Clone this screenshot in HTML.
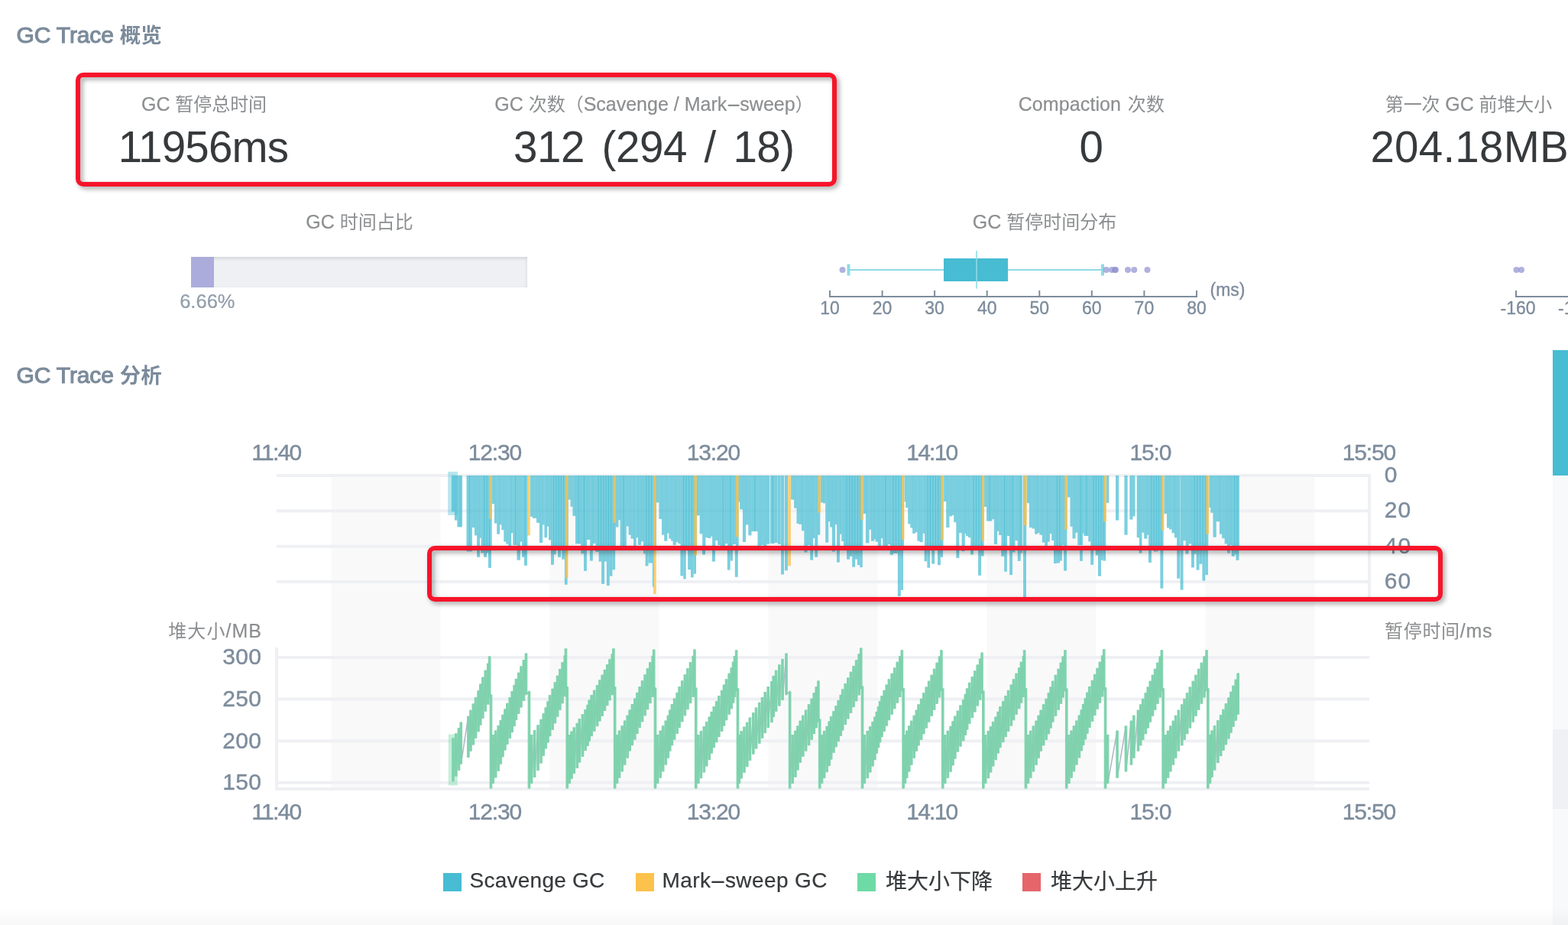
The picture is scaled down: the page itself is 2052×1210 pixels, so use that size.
<!DOCTYPE html>
<html lang="zh-CN"><head><meta charset="utf-8"><title>GC Trace</title>
<style>
*{box-sizing:border-box;margin:0;padding:0}
html,body{width:2052px;height:1210px;overflow:hidden;background:#fff}
body{position:relative;font-family:"Liberation Sans","Noto Sans CJK SC",sans-serif;color:#373a3c}
.t{position:absolute;white-space:nowrap;line-height:1}
.title{font-weight:500;font-size:30px;color:#7b8b9b;-webkit-text-stroke:1.1px #7b8b9b;letter-spacing:-.15px}
.title span{font-size:27.5px;font-weight:bold;-webkit-text-stroke:0;letter-spacing:0}
.label{font-size:25px;color:#8c8e90;-webkit-text-stroke:.2px #8c8e90}
.z{font-size:24px;-webkit-text-stroke:0}
.value{font-size:56.5px;color:#373a3c;letter-spacing:-.8px}
.ax{font-size:30px;color:#7d8c9c;letter-spacing:-1.15px;-webkit-text-stroke:.4px #7d8c9c}
.bx{font-size:23px;color:#7d8c9c;-webkit-text-stroke:.35px #7d8c9c}
.c{text-align:center}
.r{text-align:right}
.hy{display:inline-block;transform:scaleX(2.3);margin:0 4.4px}
.redbox{position:absolute;border:6px solid #f7142a;border-radius:10px;filter:drop-shadow(3px 3px 3.2px rgba(0,0,0,.36))}
.progress{position:absolute;left:250px;top:336px;width:440px;height:40px;background:#eff0f4;box-shadow:inset 0 2px 4px rgba(0,0,0,.13)}
.progress .bar{width:30px;height:40px;background:#abacdb}
.side{position:absolute;left:2032px;top:458px;width:20px;height:752px;background:#f8f9fb}
.side .thumb{position:absolute;left:0;top:0;width:20px;height:164px;background:#47bcd2}
.side .blk{position:absolute;left:0;top:496px;width:20px;height:104px;background:#eff1f5}
.footer{position:absolute;left:0;top:1188px;width:2052px;height:22px;background:linear-gradient(rgba(0,0,0,0),rgba(0,0,0,.03))}
.legend i{position:absolute;width:24px;height:24px;top:1142px}
.legend .t{font-size:28px;color:#373a3c;-webkit-text-stroke:.2px #373a3c}
svg{position:absolute;left:0;top:0;overflow:visible}
</style></head>
<body>
<h2 class="t title" style="left:21.5px;top:31px">GC Trace <span>概览</span></h2>
<h2 class="t title" style="left:21.5px;top:475.7px">GC Trace <span>分析</span></h2>
<section class="stats">
<div class="t label" style="left:185px;top:123.6px;letter-spacing:-.05px">GC <span class="z">暂停总时间</span></div>
<div class="t value" style="left:154.7px;top:165.2px;">11956ms</div>
<div class="t label" style="left:647.2px;top:123.6px;letter-spacing:0;word-spacing:0">GC <span class="z">次数（</span>Scavenge / Mark<span class="hy">-</span>sweep<span class="z">）</span></div>
<div class="t value" style="left:672px;top:165.2px;letter-spacing:-.45px;word-spacing:7.4px">312 (294 / 18)</div>
<div class="t label" style="left:1332.7px;top:123.6px;letter-spacing:.1px;word-spacing:1.7px">Compaction <span class="z">次数</span></div>
<div class="t value" style="left:1412.5px;top:165.2px;">0</div>
<div class="t label" style="left:1812.8px;top:123.6px;letter-spacing:-.1px"><span class="z">第一次</span> GC <span class="z">前堆大小</span></div>
<div class="t value" style="left:1793.4px;top:165.2px;letter-spacing:.25px">204.18MB</div>
<div class="t label" style="left:400.2px;top:278px;letter-spacing:0">GC <span class="z">时间占比</span></div>
<div class="progress"><div class="bar"></div></div>
<div class="t label" style="left:235.2px;top:381.9px;color:#8f9fb0;font-size:25.5px">6.66%</div>
<div class="t label" style="left:1272.7px;top:278px;letter-spacing:0">GC <span class="z">暂停时间分布</span></div>
</section>
<div class="side"><div class="thumb"></div><div class="blk"></div></div>
<div class="footer"></div>
<div class="legend">
<i style="left:580px;background:#47bcd2"></i>
<div class="t " style="left:614.5px;top:1138px;letter-spacing:.25px">Scavenge GC</div>
<i style="left:832px;background:#fcc24c"></i>
<div class="t " style="left:866.6px;top:1138px;letter-spacing:.4px">Mark<span class="hy">-</span>sweep GC</div>
<i style="left:1122px;background:#6edaa5"></i>
<div class="t " style="left:1159px;top:1140px;">堆大小下降</div>
<i style="left:1338px;background:#e5656b"></i>
<div class="t " style="left:1375px;top:1140px;">堆大小上升</div>
</div>
<svg width="2052" height="1210" viewBox="0 0 2052 1210" role="img" aria-label="GC Trace"><g id="boxplot">
<path d="M1086 380V388H1566V380" fill="none" stroke="#7d8c9c" stroke-width="2"/>
<path d="M1154.6 380V388" stroke="#7d8c9c" stroke-width="2"/>
<path d="M1223.1 380V388" stroke="#7d8c9c" stroke-width="2"/>
<path d="M1291.7 380V388" stroke="#7d8c9c" stroke-width="2"/>
<path d="M1360.3 380V388" stroke="#7d8c9c" stroke-width="2"/>
<path d="M1428.8 380V388" stroke="#7d8c9c" stroke-width="2"/>
<path d="M1497.4 380V388" stroke="#7d8c9c" stroke-width="2"/>
<path d="M1110 353H1443" stroke="#8fdbe4" stroke-width="2"/>
<path d="M1110.5 345.5V360.5M1443 345.5V360.5" stroke="#8fdbe4" stroke-width="4"/>
<rect x="1235" y="338" width="84" height="30" fill="#47bcd2"/>
<path d="M1278 328V377.5" stroke="#8fdbe4" stroke-width="1.6"/>
<circle cx="1102.5" cy="353" r="4" fill="#8e90d0" fill-opacity="0.7"/>
<circle cx="1447.75" cy="353" r="4" fill="#8e90d0" fill-opacity="0.7"/>
<circle cx="1455" cy="353" r="4" fill="#8e90d0" fill-opacity="0.7"/>
<circle cx="1459" cy="353" r="4" fill="#8e90d0" fill-opacity="0.7"/>
<circle cx="1460" cy="353" r="4" fill="#8e90d0" fill-opacity="0.7"/>
<circle cx="1476" cy="353" r="4" fill="#8e90d0" fill-opacity="0.7"/>
<circle cx="1484.25" cy="353" r="4" fill="#8e90d0" fill-opacity="0.7"/>
<circle cx="1501.5" cy="353" r="4" fill="#8e90d0" fill-opacity="0.7"/>
<circle cx="1984.5" cy="353" r="4" fill="#8e90d0" fill-opacity="0.7"/>
<circle cx="1991" cy="353" r="4" fill="#8e90d0" fill-opacity="0.7"/>
<path d="M1984 380V388H2052" fill="none" stroke="#7d8c9c" stroke-width="2"/>
</g>
<g id="chart">
<rect x="433.5" y="622" width="143" height="410" fill="#f9f9fa"/>
<rect x="719.5" y="622" width="143" height="410" fill="#f9f9fa"/>
<rect x="1005.5" y="622" width="143" height="410" fill="#f9f9fa"/>
<rect x="1291.5" y="622" width="143" height="410" fill="#f9f9fa"/>
<rect x="1577.5" y="622" width="143" height="410" fill="#f9f9fa"/>
<path d="M362 622H1794" stroke="#eff0f4" stroke-width="4"/>
<path d="M362 668.3H1794" stroke="#eff0f4" stroke-width="4"/>
<path d="M362 714.7H1794" stroke="#eff0f4" stroke-width="4"/>
<path d="M362 761H1794" stroke="#eff0f4" stroke-width="4"/>
<path d="M1792 620V781" stroke="#eff0f4" stroke-width="4"/>
<path d="M360 860H1792" stroke="#eff0f4" stroke-width="4"/>
<path d="M360 914.6H1792" stroke="#eff0f4" stroke-width="4"/>
<path d="M360 969.2H1792" stroke="#eff0f4" stroke-width="4"/>
<path d="M360 1023.8H1792" stroke="#eff0f4" stroke-width="4"/>
<path d="M360 1032H1792" stroke="#eff0f4" stroke-width="4"/>
<path d="M362 847V1034" stroke="#eff0f4" stroke-width="4"/>
<g id="bars"><rect x="586.2" y="617" width="12.6" height="57" fill="#47bcd2" fill-opacity="0.38"/>
<g fill="#47bcd2" fill-opacity="0.72">
<rect x="590.9" y="622" width="4.2" height="47.3"/>
<rect x="594.9" y="622" width="3.7" height="58.6"/>
<rect x="598.3" y="622" width="4.2" height="67.3"/>
<rect x="601.6" y="622" width="3.4" height="67.3"/>
<rect x="610.5" y="622" width="4.6" height="95.0"/>
<rect x="614.1" y="622" width="3.8" height="95.0"/>
<rect x="617.7" y="622" width="3.4" height="68.1"/>
<rect x="620.9" y="622" width="3.5" height="78.4"/>
<rect x="624.1" y="622" width="3.9" height="95.0"/>
<rect x="627.8" y="622" width="2.0" height="81.7"/>
<rect x="629.6" y="622" width="4.5" height="95.0"/>
<rect x="633.0" y="622" width="4.5" height="95.0"/>
<rect x="636.5" y="622" width="4.5" height="95.0"/>
<rect x="640.0" y="622" width="3.7" height="95.0"/>
<rect x="643.5" y="622" width="3.7" height="37.1"/>
<rect x="646.9" y="622" width="3.5" height="62.6"/>
<rect x="650.2" y="622" width="3.9" height="76.7"/>
<rect x="653.9" y="622" width="2.7" height="64.4"/>
<rect x="656.4" y="622" width="3.2" height="71.3"/>
<rect x="659.3" y="622" width="3.2" height="86.7"/>
<rect x="662.3" y="622" width="3.2" height="89.6"/>
<rect x="665.3" y="622" width="3.9" height="95.0"/>
<rect x="668.9" y="622" width="2.5" height="75.3"/>
<rect x="671.2" y="622" width="3.7" height="91.1"/>
<rect x="674.0" y="622" width="2.9" height="91.1"/>
<rect x="676.7" y="622" width="4.2" height="95.0"/>
<rect x="680.6" y="622" width="2.7" height="86.7"/>
<rect x="683.1" y="622" width="4.5" height="95.0"/>
<rect x="686.6" y="622" width="3.7" height="95.0"/>
<rect x="693.8" y="622" width="3.4" height="53.9"/>
<rect x="697.0" y="622" width="5.2" height="55.9"/>
<rect x="702.0" y="622" width="4.2" height="61.9"/>
<rect x="705.9" y="622" width="4.2" height="88.0"/>
<rect x="709.9" y="622" width="2.7" height="64.4"/>
<rect x="712.4" y="622" width="3.7" height="81.2"/>
<rect x="715.8" y="622" width="2.4" height="66.8"/>
<rect x="718.0" y="622" width="3.2" height="84.4"/>
<rect x="721.0" y="622" width="4.2" height="95.0"/>
<rect x="724.2" y="622" width="4.2" height="95.0"/>
<rect x="727.5" y="622" width="4.2" height="95.0"/>
<rect x="730.7" y="622" width="4.2" height="95.0"/>
<rect x="733.9" y="622" width="4.2" height="95.0"/>
<rect x="737.1" y="622" width="4.2" height="95.0"/>
<rect x="740.4" y="622" width="3.4" height="95.0"/>
<rect x="743.6" y="622" width="3.2" height="31.6"/>
<rect x="746.6" y="622" width="3.0" height="40.8"/>
<rect x="749.4" y="622" width="3.9" height="52.9"/>
<rect x="753.0" y="622" width="4.5" height="89.3"/>
<rect x="756.5" y="622" width="3.7" height="89.3"/>
<rect x="760.0" y="622" width="5.0" height="95.0"/>
<rect x="763.9" y="622" width="4.2" height="95.0"/>
<rect x="767.9" y="622" width="2.3" height="84.0"/>
<rect x="770.0" y="622" width="2.4" height="84.0"/>
<rect x="772.2" y="622" width="4.0" height="95.0"/>
<rect x="775.9" y="622" width="3.7" height="88.9"/>
<rect x="779.4" y="622" width="4.3" height="95.0"/>
<rect x="782.7" y="622" width="4.3" height="95.0"/>
<rect x="786.0" y="622" width="4.3" height="95.0"/>
<rect x="789.3" y="622" width="4.3" height="95.0"/>
<rect x="792.6" y="622" width="4.3" height="95.0"/>
<rect x="795.8" y="622" width="4.3" height="95.0"/>
<rect x="799.1" y="622" width="4.3" height="95.0"/>
<rect x="802.4" y="622" width="3.5" height="95.0"/>
<rect x="805.7" y="622" width="3.7" height="67.5"/>
<rect x="809.2" y="622" width="2.7" height="58.2"/>
<rect x="811.6" y="622" width="5.0" height="95.0"/>
<rect x="815.6" y="622" width="4.2" height="95.0"/>
<rect x="819.6" y="622" width="3.2" height="66.5"/>
<rect x="822.6" y="622" width="3.2" height="77.7"/>
<rect x="825.5" y="622" width="3.7" height="82.7"/>
<rect x="829.0" y="622" width="3.7" height="95.0"/>
<rect x="832.5" y="622" width="2.7" height="81.2"/>
<rect x="834.9" y="622" width="4.2" height="90.9"/>
<rect x="838.9" y="622" width="3.2" height="86.4"/>
<rect x="841.9" y="622" width="4.4" height="95.0"/>
<rect x="845.3" y="622" width="4.4" height="95.0"/>
<rect x="848.6" y="622" width="4.4" height="95.0"/>
<rect x="852.0" y="622" width="4.4" height="95.0"/>
<rect x="855.4" y="622" width="3.6" height="95.0"/>
<rect x="858.7" y="622" width="3.9" height="35.4"/>
<rect x="862.4" y="622" width="3.8" height="56.9"/>
<rect x="866.0" y="622" width="3.4" height="77.7"/>
<rect x="869.2" y="622" width="4.2" height="85.7"/>
<rect x="873.1" y="622" width="2.4" height="75.5"/>
<rect x="875.3" y="622" width="3.0" height="82.7"/>
<rect x="878.1" y="622" width="2.7" height="85.7"/>
<rect x="880.6" y="622" width="4.2" height="90.9"/>
<rect x="884.5" y="622" width="3.2" height="87.2"/>
<rect x="887.5" y="622" width="3.2" height="89.1"/>
<rect x="890.5" y="622" width="4.6" height="95.0"/>
<rect x="894.1" y="622" width="4.6" height="95.0"/>
<rect x="897.6" y="622" width="4.6" height="95.0"/>
<rect x="901.2" y="622" width="4.6" height="95.0"/>
<rect x="904.8" y="622" width="4.6" height="95.0"/>
<rect x="908.4" y="622" width="3.8" height="95.0"/>
<rect x="912.0" y="622" width="3.8" height="52.3"/>
<rect x="915.6" y="622" width="3.9" height="76.4"/>
<rect x="919.2" y="622" width="4.2" height="95.0"/>
<rect x="923.2" y="622" width="3.2" height="81.2"/>
<rect x="926.2" y="622" width="4.2" height="82.0"/>
<rect x="930.1" y="622" width="2.2" height="79.7"/>
<rect x="932.1" y="622" width="4.2" height="95.0"/>
<rect x="936.1" y="622" width="3.2" height="85.0"/>
<rect x="939.1" y="622" width="3.7" height="91.1"/>
<rect x="942.5" y="622" width="4.2" height="95.0"/>
<rect x="945.8" y="622" width="3.4" height="95.0"/>
<rect x="949.0" y="622" width="3.2" height="89.1"/>
<rect x="952.0" y="622" width="4.5" height="95.0"/>
<rect x="955.4" y="622" width="3.7" height="95.0"/>
<rect x="958.9" y="622" width="1.3" height="90.1"/>
<rect x="960.0" y="622" width="3.2" height="90.1"/>
<rect x="963.0" y="622" width="3.7" height="95.0"/>
<rect x="966.4" y="622" width="1.9" height="34.4"/>
<rect x="968.1" y="622" width="4.0" height="44.3"/>
<rect x="971.9" y="622" width="4.2" height="87.0"/>
<rect x="975.9" y="622" width="3.7" height="64.5"/>
<rect x="979.3" y="622" width="4.2" height="78.4"/>
<rect x="983.3" y="622" width="5.1" height="73.1"/>
<rect x="987.4" y="622" width="4.3" height="73.1"/>
<rect x="991.5" y="622" width="4.4" height="95.0"/>
<rect x="995.7" y="622" width="3.7" height="91.1"/>
<rect x="999.2" y="622" width="4.2" height="95.0"/>
<rect x="1003.1" y="622" width="4.2" height="89.6"/>
<rect x="1008.1" y="622" width="3.7" height="88.9"/>
<rect x="1010.8" y="622" width="2.9" height="88.9"/>
<rect x="1013.5" y="622" width="4.2" height="88.0"/>
<rect x="1018.0" y="622" width="3.7" height="89.9"/>
<rect x="1022.0" y="622" width="4.2" height="95.0"/>
<rect x="1026.9" y="622" width="4.2" height="95.0"/>
<rect x="1035.1" y="622" width="4.3" height="31.6"/>
<rect x="1039.1" y="622" width="3.6" height="42.7"/>
<rect x="1042.5" y="622" width="3.0" height="62.9"/>
<rect x="1045.3" y="622" width="4.0" height="63.9"/>
<rect x="1049.0" y="622" width="3.6" height="72.3"/>
<rect x="1052.4" y="622" width="4.5" height="95.0"/>
<rect x="1056.7" y="622" width="3.7" height="91.1"/>
<rect x="1060.1" y="622" width="4.0" height="95.0"/>
<rect x="1063.9" y="622" width="2.6" height="82.0"/>
<rect x="1066.3" y="622" width="4.0" height="95.0"/>
<rect x="1070.1" y="622" width="3.2" height="77.7"/>
<rect x="1073.8" y="622" width="3.4" height="35.4"/>
<rect x="1077.0" y="622" width="3.4" height="36.4"/>
<rect x="1080.2" y="622" width="4.0" height="87.7"/>
<rect x="1083.9" y="622" width="2.4" height="60.2"/>
<rect x="1086.1" y="622" width="3.0" height="67.5"/>
<rect x="1088.9" y="622" width="4.2" height="95.0"/>
<rect x="1092.9" y="622" width="2.4" height="64.2"/>
<rect x="1095.1" y="622" width="4.2" height="95.0"/>
<rect x="1099.0" y="622" width="2.5" height="76.7"/>
<rect x="1101.3" y="622" width="2.9" height="86.0"/>
<rect x="1104.0" y="622" width="4.6" height="95.0"/>
<rect x="1107.6" y="622" width="4.6" height="95.0"/>
<rect x="1111.1" y="622" width="4.6" height="95.0"/>
<rect x="1114.7" y="622" width="4.6" height="95.0"/>
<rect x="1118.3" y="622" width="4.6" height="95.0"/>
<rect x="1121.9" y="622" width="4.6" height="95.0"/>
<rect x="1125.5" y="622" width="3.8" height="95.0"/>
<rect x="1129.6" y="622" width="3.7" height="50.0"/>
<rect x="1133.0" y="622" width="4.5" height="88.3"/>
<rect x="1137.3" y="622" width="2.9" height="70.8"/>
<rect x="1140.0" y="622" width="4.2" height="85.7"/>
<rect x="1143.9" y="622" width="1.9" height="83.2"/>
<rect x="1145.6" y="622" width="3.5" height="86.7"/>
<rect x="1148.9" y="622" width="1.3" height="95.0"/>
<rect x="1150.0" y="622" width="3.2" height="95.0"/>
<rect x="1153.0" y="622" width="2.2" height="82.2"/>
<rect x="1155.0" y="622" width="4.5" height="95.0"/>
<rect x="1158.4" y="622" width="3.7" height="95.0"/>
<rect x="1161.9" y="622" width="3.2" height="90.1"/>
<rect x="1164.9" y="622" width="4.6" height="95.0"/>
<rect x="1168.4" y="622" width="4.6" height="95.0"/>
<rect x="1172.0" y="622" width="4.6" height="95.0"/>
<rect x="1175.6" y="622" width="4.6" height="95.0"/>
<rect x="1179.2" y="622" width="3.8" height="95.0"/>
<rect x="1183.5" y="622" width="1.9" height="34.4"/>
<rect x="1185.2" y="622" width="3.2" height="42.3"/>
<rect x="1188.2" y="622" width="3.2" height="63.4"/>
<rect x="1191.2" y="622" width="3.2" height="68.5"/>
<rect x="1194.1" y="622" width="4.2" height="75.8"/>
<rect x="1198.1" y="622" width="2.5" height="74.1"/>
<rect x="1200.4" y="622" width="3.4" height="85.7"/>
<rect x="1203.5" y="622" width="4.2" height="87.2"/>
<rect x="1207.5" y="622" width="2.7" height="75.8"/>
<rect x="1210.0" y="622" width="4.5" height="95.0"/>
<rect x="1213.5" y="622" width="4.5" height="95.0"/>
<rect x="1216.9" y="622" width="4.5" height="95.0"/>
<rect x="1220.4" y="622" width="4.5" height="95.0"/>
<rect x="1223.9" y="622" width="4.5" height="95.0"/>
<rect x="1227.3" y="622" width="4.5" height="95.0"/>
<rect x="1230.8" y="622" width="3.7" height="95.0"/>
<rect x="1235.1" y="622" width="3.4" height="34.1"/>
<rect x="1238.2" y="622" width="4.2" height="68.1"/>
<rect x="1242.2" y="622" width="3.7" height="53.4"/>
<rect x="1245.7" y="622" width="2.7" height="52.0"/>
<rect x="1248.2" y="622" width="3.4" height="61.2"/>
<rect x="1251.3" y="622" width="4.0" height="95.0"/>
<rect x="1255.1" y="622" width="3.7" height="75.1"/>
<rect x="1258.6" y="622" width="4.2" height="95.0"/>
<rect x="1262.5" y="622" width="1.7" height="76.1"/>
<rect x="1264.0" y="622" width="3.2" height="79.2"/>
<rect x="1267.0" y="622" width="3.4" height="81.2"/>
<rect x="1270.2" y="622" width="4.4" height="95.0"/>
<rect x="1273.6" y="622" width="4.4" height="95.0"/>
<rect x="1277.0" y="622" width="4.4" height="95.0"/>
<rect x="1280.5" y="622" width="4.4" height="95.0"/>
<rect x="1283.9" y="622" width="3.6" height="95.0"/>
<rect x="1288.0" y="622" width="3.2" height="41.0"/>
<rect x="1291.0" y="622" width="4.6" height="59.6"/>
<rect x="1294.6" y="622" width="3.8" height="59.6"/>
<rect x="1298.2" y="622" width="2.9" height="57.2"/>
<rect x="1300.9" y="622" width="4.2" height="89.9"/>
<rect x="1304.9" y="622" width="2.5" height="72.8"/>
<rect x="1307.2" y="622" width="3.5" height="78.0"/>
<rect x="1310.4" y="622" width="4.7" height="95.0"/>
<rect x="1314.1" y="622" width="3.9" height="95.0"/>
<rect x="1317.8" y="622" width="3.5" height="79.0"/>
<rect x="1321.0" y="622" width="4.6" height="95.0"/>
<rect x="1324.7" y="622" width="3.8" height="95.0"/>
<rect x="1328.3" y="622" width="3.6" height="85.2"/>
<rect x="1331.7" y="622" width="4.1" height="95.0"/>
<rect x="1334.8" y="622" width="3.3" height="95.0"/>
<rect x="1338.9" y="622" width="1.3" height="95.0"/>
<rect x="1340.0" y="622" width="3.2" height="95.0"/>
<rect x="1343.8" y="622" width="3.4" height="36.1"/>
<rect x="1346.9" y="622" width="3.7" height="68.1"/>
<rect x="1350.4" y="622" width="3.9" height="69.5"/>
<rect x="1354.1" y="622" width="4.0" height="76.7"/>
<rect x="1357.8" y="622" width="2.7" height="75.1"/>
<rect x="1360.3" y="622" width="3.7" height="77.7"/>
<rect x="1363.8" y="622" width="3.7" height="87.7"/>
<rect x="1367.3" y="622" width="3.7" height="95.0"/>
<rect x="1370.7" y="622" width="3.2" height="86.7"/>
<rect x="1373.7" y="622" width="2.7" height="76.1"/>
<rect x="1376.2" y="622" width="3.2" height="85.0"/>
<rect x="1379.2" y="622" width="4.6" height="95.0"/>
<rect x="1382.8" y="622" width="4.6" height="95.0"/>
<rect x="1386.4" y="622" width="3.8" height="95.0"/>
<rect x="1390.1" y="622" width="2.2" height="91.1"/>
<rect x="1392.1" y="622" width="4.2" height="95.0"/>
<rect x="1397.0" y="622" width="3.7" height="28.5"/>
<rect x="1400.5" y="622" width="3.2" height="66.8"/>
<rect x="1403.5" y="622" width="4.0" height="82.4"/>
<rect x="1407.2" y="622" width="3.2" height="74.8"/>
<rect x="1410.2" y="622" width="4.3" height="91.1"/>
<rect x="1413.5" y="622" width="3.5" height="91.1"/>
<rect x="1416.8" y="622" width="1.7" height="75.8"/>
<rect x="1418.3" y="622" width="4.0" height="79.0"/>
<rect x="1421.3" y="622" width="3.2" height="79.0"/>
<rect x="1424.3" y="622" width="3.2" height="86.4"/>
<rect x="1427.3" y="622" width="4.3" height="95.0"/>
<rect x="1430.6" y="622" width="4.3" height="95.0"/>
<rect x="1433.9" y="622" width="4.3" height="95.0"/>
<rect x="1437.2" y="622" width="4.3" height="95.0"/>
<rect x="1440.5" y="622" width="4.3" height="95.0"/>
<rect x="1443.8" y="622" width="3.5" height="95.0"/>
<rect x="1447.9" y="622" width="3.4" height="35.8"/>
<rect x="1460.0" y="622" width="4.2" height="58.6"/>
<rect x="1471.4" y="622" width="4.2" height="77.7"/>
<rect x="1478.3" y="622" width="4.2" height="57.6"/>
<rect x="1482.3" y="622" width="3.2" height="53.4"/>
<rect x="1487.7" y="622" width="3.4" height="81.2"/>
<rect x="1490.9" y="622" width="3.5" height="95.0"/>
<rect x="1494.2" y="622" width="3.2" height="74.8"/>
<rect x="1497.2" y="622" width="4.2" height="82.7"/>
<rect x="1501.1" y="622" width="2.2" height="77.7"/>
<rect x="1503.1" y="622" width="4.2" height="95.0"/>
<rect x="1506.3" y="622" width="4.2" height="95.0"/>
<rect x="1509.6" y="622" width="4.2" height="95.0"/>
<rect x="1512.8" y="622" width="4.2" height="95.0"/>
<rect x="1516.0" y="622" width="4.2" height="95.0"/>
<rect x="1519.2" y="622" width="3.4" height="95.0"/>
<rect x="1523.4" y="622" width="3.7" height="50.0"/>
<rect x="1526.9" y="622" width="3.3" height="68.5"/>
<rect x="1530.0" y="622" width="3.7" height="70.5"/>
<rect x="1533.5" y="622" width="3.7" height="75.3"/>
<rect x="1536.9" y="622" width="3.4" height="81.4"/>
<rect x="1540.1" y="622" width="4.5" height="95.0"/>
<rect x="1544.9" y="622" width="3.7" height="95.0"/>
<rect x="1548.3" y="622" width="3.5" height="85.2"/>
<rect x="1551.6" y="622" width="4.2" height="95.0"/>
<rect x="1555.6" y="622" width="3.6" height="89.3"/>
<rect x="1559.0" y="622" width="4.7" height="95.0"/>
<rect x="1562.6" y="622" width="4.7" height="95.0"/>
<rect x="1566.3" y="622" width="4.7" height="95.0"/>
<rect x="1570.0" y="622" width="4.7" height="95.0"/>
<rect x="1573.7" y="622" width="4.7" height="95.0"/>
<rect x="1577.4" y="622" width="3.9" height="95.0"/>
<rect x="1582.4" y="622" width="2.2" height="42.0"/>
<rect x="1584.3" y="622" width="3.4" height="48.7"/>
<rect x="1587.5" y="622" width="4.2" height="80.7"/>
<rect x="1591.5" y="622" width="4.7" height="60.2"/>
<rect x="1595.9" y="622" width="3.5" height="76.7"/>
<rect x="1599.2" y="622" width="3.6" height="82.2"/>
<rect x="1602.6" y="622" width="3.5" height="89.3"/>
<rect x="1605.9" y="622" width="4.2" height="95.0"/>
<rect x="1609.8" y="622" width="2.2" height="91.1"/>
<rect x="1611.8" y="622" width="4.3" height="95.0"/>
<rect x="1615.1" y="622" width="4.3" height="95.0"/>
<rect x="1618.4" y="622" width="3.5" height="95.0"/>
<rect x="610.7" y="717" width="4.0" height="4.4"/>
<rect x="614.4" y="717" width="3.7" height="4.4"/>
<rect x="624.1" y="717" width="3.9" height="11.8"/>
<rect x="629.2" y="717" width="3.9" height="6.4"/>
<rect x="633.1" y="717" width="3.9" height="11.8"/>
<rect x="637.0" y="717" width="1.9" height="6.4"/>
<rect x="639.0" y="717" width="3.9" height="25.9"/>
<rect x="676.5" y="717" width="4.4" height="15.7"/>
<rect x="683.1" y="717" width="3.1" height="11.8"/>
<rect x="686.0" y="717" width="3.9" height="22.8"/>
<rect x="721.0" y="717" width="4.0" height="21.8"/>
<rect x="725.0" y="717" width="2.6" height="8.3"/>
<rect x="730.1" y="717" width="3.9" height="11.8"/>
<rect x="735.2" y="717" width="3.7" height="14.7"/>
<rect x="738.9" y="717" width="3.7" height="47.8"/>
<rect x="760.3" y="717" width="3.9" height="7.4"/>
<rect x="764.0" y="717" width="3.9" height="29.8"/>
<rect x="771.9" y="717" width="3.9" height="16.6"/>
<rect x="779.3" y="717" width="4.4" height="4.9"/>
<rect x="783.6" y="717" width="3.4" height="17.6"/>
<rect x="787.1" y="717" width="3.9" height="46.8"/>
<rect x="791.0" y="717" width="2.9" height="17.6"/>
<rect x="793.9" y="717" width="3.9" height="49.1"/>
<rect x="797.8" y="717" width="3.6" height="36.6"/>
<rect x="801.4" y="717" width="3.7" height="28.3"/>
<rect x="842.1" y="717" width="2.4" height="7.4"/>
<rect x="844.6" y="717" width="3.9" height="23.4"/>
<rect x="848.5" y="717" width="5.4" height="19.5"/>
<rect x="853.8" y="717" width="2.4" height="50.7"/>
<rect x="890.4" y="717" width="3.9" height="36.4"/>
<rect x="894.3" y="717" width="3.4" height="40.5"/>
<rect x="900.1" y="717" width="3.9" height="28.0"/>
<rect x="904.0" y="717" width="3.6" height="38.4"/>
<rect x="907.6" y="717" width="3.4" height="33.7"/>
<rect x="919.1" y="717" width="3.9" height="8.5"/>
<rect x="932.0" y="717" width="3.9" height="17.6"/>
<rect x="951.8" y="717" width="3.9" height="28.6"/>
<rect x="955.7" y="717" width="3.2" height="16.6"/>
<rect x="961.8" y="717" width="3.9" height="37.8"/>
<rect x="1022.1" y="717" width="3.9" height="34.5"/>
<rect x="1027.0" y="717" width="3.9" height="29.3"/>
<rect x="1052.4" y="717" width="4.1" height="5.6"/>
<rect x="1060.2" y="717" width="3.9" height="15.7"/>
<rect x="1066.2" y="717" width="3.9" height="11.8"/>
<rect x="1089.1" y="717" width="3.6" height="4.6"/>
<rect x="1095.0" y="717" width="3.9" height="18.6"/>
<rect x="1108.1" y="717" width="3.9" height="14.7"/>
<rect x="1112.0" y="717" width="3.1" height="10.8"/>
<rect x="1115.2" y="717" width="3.9" height="24.7"/>
<rect x="1119.1" y="717" width="2.9" height="14.7"/>
<rect x="1122.0" y="717" width="3.2" height="22.2"/>
<rect x="1125.2" y="717" width="3.6" height="25.1"/>
<rect x="1164.8" y="717" width="4.2" height="8.8"/>
<rect x="1169.0" y="717" width="5.8" height="6.9"/>
<rect x="1174.9" y="717" width="3.9" height="62.9"/>
<rect x="1178.8" y="717" width="3.2" height="54.9"/>
<rect x="1209.6" y="717" width="3.7" height="17.3"/>
<rect x="1213.4" y="717" width="3.7" height="25.7"/>
<rect x="1219.2" y="717" width="3.9" height="20.5"/>
<rect x="1227.0" y="717" width="3.9" height="22.2"/>
<rect x="1230.9" y="717" width="3.1" height="11.8"/>
<rect x="1251.4" y="717" width="3.9" height="13.0"/>
<rect x="1258.2" y="717" width="4.4" height="4.0"/>
<rect x="1270.1" y="717" width="3.9" height="8.5"/>
<rect x="1280.1" y="717" width="3.9" height="35.8"/>
<rect x="1284.0" y="717" width="3.6" height="10.5"/>
<rect x="1310.3" y="717" width="3.9" height="10.8"/>
<rect x="1314.2" y="717" width="3.6" height="30.8"/>
<rect x="1321.1" y="717" width="3.9" height="35.1"/>
<rect x="1325.0" y="717" width="3.4" height="5.4"/>
<rect x="1331.8" y="717" width="3.9" height="16.9"/>
<rect x="1335.7" y="717" width="2.4" height="6.4"/>
<rect x="1339.1" y="717" width="0.9" height="65.8"/>
<rect x="1340.0" y="717" width="2.9" height="65.8"/>
<rect x="1379.0" y="717" width="3.9" height="20.0"/>
<rect x="1382.9" y="717" width="4.1" height="19.5"/>
<rect x="1387.0" y="717" width="2.9" height="16.6"/>
<rect x="1392.1" y="717" width="3.9" height="29.6"/>
<rect x="1413.1" y="717" width="3.7" height="16.9"/>
<rect x="1427.2" y="717" width="3.9" height="21.8"/>
<rect x="1433.8" y="717" width="3.2" height="9.5"/>
<rect x="1437.0" y="717" width="3.9" height="36.6"/>
<rect x="1440.9" y="717" width="2.4" height="15.7"/>
<rect x="1443.3" y="717" width="3.7" height="16.6"/>
<rect x="1490.6" y="717" width="3.9" height="6.6"/>
<rect x="1503.0" y="717" width="3.9" height="18.9"/>
<rect x="1509.6" y="717" width="5.8" height="4.4"/>
<rect x="1518.4" y="717" width="3.9" height="52.7"/>
<rect x="1540.2" y="717" width="3.9" height="39.7"/>
<rect x="1544.6" y="717" width="3.9" height="54.6"/>
<rect x="1551.4" y="717" width="4.1" height="7.6"/>
<rect x="1559.0" y="717" width="3.9" height="25.4"/>
<rect x="1562.9" y="717" width="2.6" height="7.9"/>
<rect x="1565.6" y="717" width="3.9" height="28.6"/>
<rect x="1569.5" y="717" width="3.9" height="20.8"/>
<rect x="1573.4" y="717" width="3.9" height="42.6"/>
<rect x="1577.3" y="717" width="3.6" height="35.1"/>
<rect x="1606.0" y="717" width="3.9" height="6.6"/>
<rect x="1611.7" y="717" width="4.1" height="10.8"/>
<rect x="1615.8" y="717" width="1.8" height="8.5"/>
<rect x="1617.5" y="717" width="3.9" height="15.9"/>
</g>
<g fill="#fcc24c" fill-opacity="0.78">
<rect x="640.0" y="622" width="3.7" height="56.9"/>
<rect x="690.0" y="622" width="3.7" height="78.4"/>
<rect x="739.8" y="622" width="3.7" height="133.7"/>
<rect x="802.2" y="622" width="3.7" height="61.9"/>
<rect x="855.0" y="622" width="3.7" height="155.0"/>
<rect x="908.3" y="622" width="3.7" height="104.3"/>
<rect x="963.0" y="622" width="3.7" height="80.2"/>
<rect x="1031.2" y="622" width="3.7" height="118.2"/>
<rect x="1070.3" y="622" width="3.7" height="48.5"/>
<rect x="1126.1" y="622" width="3.7" height="57.9"/>
<rect x="1179.7" y="622" width="3.7" height="84.0"/>
<rect x="1231.3" y="622" width="3.7" height="84.7"/>
<rect x="1284.4" y="622" width="3.7" height="85.7"/>
<rect x="1340.0" y="622" width="3.7" height="65.3"/>
<rect x="1393.3" y="622" width="3.7" height="70.8"/>
<rect x="1444.1" y="622" width="3.7" height="60.2"/>
<rect x="1519.7" y="622" width="3.7" height="71.8"/>
<rect x="1578.4" y="622" width="3.7" height="76.7"/>
</g></g>
<g id="heap"><polyline points="593.0,965.3 593.0,1022.3 596.7,959.3 596.7,1015.6 600.5,952.2 600.5,1007.8 603.3,944.6 603.3,999.6 612.8,936.8 612.8,991.0 616.0,928.7 616.0,982.7 619.4,920.4 619.4,974.4 622.6,911.9 622.6,965.9 626.1,903.3 626.1,957.3 628.8,894.6 628.8,948.6 631.8,885.7 631.8,939.7 635.3,876.7 635.3,930.7 638.8,867.7 638.8,921.7 640.6,858.5 640.6,912.5 642.5,908.5 642.5,1031.5 645.3,961.0 645.3,1025.0 648.7,955.5 648.7,1017.3 652.1,949.0 652.1,1008.7 655.2,942.0 655.2,999.6 657.9,934.8 657.9,990.2 660.9,927.4 660.9,981.4 663.9,919.8 663.9,973.8 667.2,912.0 667.2,966.0 670.2,904.1 670.2,958.1 673.1,896.1 673.1,950.1 675.4,887.9 675.4,941.9 678.8,879.7 678.8,933.7 682.0,871.4 682.0,925.4 685.4,863.0 685.4,917.0 688.4,854.5 688.4,908.5 692.5,904.5 692.5,1031.5 695.5,961.0 695.5,1025.0 699.6,955.1 699.6,1017.0 704.0,948.3 704.0,1008.0 708.0,940.9 708.0,998.5 711.2,933.3 711.2,988.7 714.2,925.4 714.2,979.4 717.0,917.4 717.0,971.4 719.6,909.1 719.6,963.1 723.1,900.8 723.1,954.8 726.3,892.3 726.3,946.3 729.6,883.7 729.6,937.7 732.8,875.0 732.8,929.0 736.0,866.2 736.0,920.2 739.3,857.3 739.3,911.3 740.4,848.3 740.4,902.3 742.2,898.3 742.2,1031.5 745.2,961.0 745.2,1025.0 748.1,956.6 748.1,1018.9 751.3,951.4 751.3,1012.0 755.3,945.9 755.3,1004.9 758.3,940.1 758.3,997.4 762.5,934.2 762.5,989.8 766.0,928.1 766.0,982.1 769.0,921.9 769.0,975.9 771.2,915.6 771.2,969.6 774.2,909.1 774.2,963.1 777.8,902.7 777.8,956.7 781.6,896.1 781.6,950.1 784.8,889.4 784.8,943.4 788.1,882.7 788.1,936.7 791.4,875.9 791.4,929.9 794.7,869.1 794.7,923.1 798.0,862.2 798.0,916.2 801.3,855.3 801.3,909.3 802.9,848.3 802.9,902.3 804.7,898.3 804.7,1031.5 807.5,961.0 807.5,1025.0 810.5,955.6 810.5,1017.6 814.1,949.3 814.1,1009.3 817.7,942.6 817.7,1000.6 821.2,935.7 821.2,991.7 824.1,928.5 824.1,982.5 827.4,921.1 827.4,975.1 830.8,913.6 830.8,967.6 833.8,905.9 833.8,959.9 837.0,898.1 837.0,952.1 840.5,890.3 840.5,944.3 844.1,882.3 844.1,936.3 847.4,874.2 847.4,928.2 850.8,866.1 850.8,920.1 854.2,857.9 854.2,911.9 855.6,849.6 855.6,903.6 857.5,899.6 857.5,1031.5 860.7,961.0 860.7,1025.0 864.3,955.6 864.3,1017.6 867.7,949.3 867.7,1009.3 871.2,942.6 871.2,1000.6 874.3,935.7 874.3,991.7 876.8,928.5 876.8,982.5 879.4,921.1 879.4,975.1 882.6,913.6 882.6,967.6 886.1,905.9 886.1,959.9 889.1,898.1 889.1,952.1 892.8,890.3 892.8,944.3 896.4,882.3 896.4,936.3 899.9,874.2 899.9,928.2 903.5,866.1 903.5,920.1 907.1,857.9 907.1,911.9 908.9,849.6 908.9,903.6 910.8,899.6 910.8,1031.5 913.9,961.0 913.9,1025.0 917.5,956.0 917.5,1018.2 921.3,950.2 921.3,1010.5 924.8,944.0 924.8,1002.4 928.3,937.6 928.3,994.1 931.2,930.9 931.2,985.5 934.2,924.1 934.2,978.1 937.7,917.1 937.7,971.1 940.9,910.1 940.9,964.1 944.6,902.9 944.6,956.9 947.5,895.6 947.5,949.6 950.6,888.2 950.6,942.2 954.2,880.8 954.2,934.8 957.3,873.3 957.3,927.3 959.5,865.7 959.5,919.7 961.6,858.0 961.6,912.0 963.6,850.3 963.6,904.3 965.5,900.3 965.5,1031.5 967.4,961.0 967.4,1025.0 970.1,956.2 970.1,1018.4 974.0,950.6 974.0,1010.9 977.7,944.7 977.7,1003.1 981.4,938.5 981.4,995.0 985.9,932.1 985.9,986.7 989.6,925.5 989.6,979.5 993.7,918.8 993.7,972.8 997.5,912.0 997.5,966.0 1001.3,905.1 1001.3,959.1 1005.2,898.1 1005.2,952.1 1010.0,891.1 1010.0,945.1 1012.3,883.9 1012.3,937.9 1015.6,876.7 1015.6,930.7 1019.8,869.4 1019.8,923.4 1024.1,862.0 1024.1,916.0 1029.0,854.6 1029.0,908.6 1033.6,904.6 1033.6,1031.5 1037.2,961.0 1037.2,1025.0 1040.9,955.7 1040.9,1016.7 1044.0,949.4 1044.0,1007.4 1047.3,942.7 1047.3,997.7 1050.8,935.7 1050.8,989.7 1054.6,928.6 1054.6,982.6 1058.5,921.2 1058.5,975.2 1062.1,913.7 1062.1,967.7 1065.2,906.1 1065.2,960.1 1068.3,898.3 1068.3,952.3 1070.9,890.5 1070.9,944.5 1072.7,940.5 1072.7,1031.5 1075.5,961.0 1075.5,1025.0 1078.7,955.9 1078.7,1018.0 1082.2,949.9 1082.2,1010.2 1085.1,943.6 1085.1,1002.0 1087.6,937.0 1087.6,993.5 1091.0,930.2 1091.0,984.8 1094.1,923.2 1094.1,977.2 1097.1,916.0 1097.1,970.0 1100.3,908.8 1100.3,962.8 1102.7,901.4 1102.7,955.4 1106.3,894.0 1106.3,948.0 1109.9,886.4 1109.9,940.4 1113.4,878.8 1113.4,932.8 1117.0,871.1 1117.0,925.1 1120.6,863.3 1120.6,917.3 1124.2,855.4 1124.2,909.4 1126.7,847.5 1126.7,901.5 1128.5,897.5 1128.5,1031.5 1131.4,961.0 1131.4,1025.0 1135.3,956.0 1135.3,1018.2 1138.7,950.2 1138.7,1010.5 1142.1,944.0 1142.1,1002.4 1144.9,937.6 1144.9,994.1 1147.4,930.9 1147.4,985.5 1149.5,924.1 1149.5,978.1 1151.6,917.1 1151.6,971.1 1154.1,910.1 1154.1,964.1 1157.2,902.9 1157.2,956.9 1160.3,895.6 1160.3,949.6 1163.5,888.2 1163.5,942.2 1167.2,880.8 1167.2,934.8 1170.7,873.3 1170.7,927.3 1174.3,865.7 1174.3,919.7 1177.9,858.0 1177.9,912.0 1180.3,850.3 1180.3,904.3 1182.1,900.3 1182.1,1031.5 1184.5,961.0 1184.5,1025.0 1186.8,955.7 1186.8,1017.7 1189.8,949.4 1189.8,1009.4 1192.7,942.7 1192.7,1000.7 1196.2,935.8 1196.2,991.8 1199.3,928.7 1199.3,982.7 1202.1,921.3 1202.1,975.3 1205.6,913.9 1205.6,967.9 1208.9,906.2 1208.9,960.2 1212.2,898.5 1212.2,952.5 1215.7,890.7 1215.7,944.7 1219.2,882.8 1219.2,936.8 1222.6,874.8 1222.6,928.8 1226.1,866.7 1226.1,920.7 1229.6,858.5 1229.6,912.5 1231.9,850.3 1231.9,904.3 1233.7,900.3 1233.7,1031.5 1236.8,961.0 1236.8,1025.0 1240.3,955.8 1240.3,1017.8 1244.1,949.8 1244.1,1009.8 1247.0,943.3 1247.0,1001.3 1249.9,936.6 1249.9,992.6 1253.3,929.6 1253.3,983.6 1256.9,922.5 1256.9,976.5 1260.7,915.3 1260.7,969.3 1263.4,907.9 1263.4,961.9 1265.6,900.4 1265.6,954.4 1268.7,892.8 1268.7,946.8 1272.4,885.1 1272.4,939.1 1275.8,877.4 1275.8,931.4 1279.3,869.5 1279.3,923.5 1282.7,861.6 1282.7,915.6 1285.0,853.6 1285.0,907.6 1286.8,903.6 1286.8,1031.5 1289.6,961.0 1289.6,1025.0 1293.3,956.0 1293.3,1018.2 1296.5,950.2 1296.5,1010.5 1299.7,944.0 1299.7,1002.4 1303.0,937.6 1303.0,994.1 1306.1,930.9 1306.1,985.5 1308.9,924.1 1308.9,978.1 1312.8,917.1 1312.8,971.1 1316.0,910.1 1316.0,964.1 1319.5,902.9 1319.5,956.9 1323.4,895.6 1323.4,949.6 1326.6,888.2 1326.6,942.2 1330.1,880.8 1330.1,934.8 1333.7,873.3 1333.7,927.3 1336.4,865.7 1336.4,919.7 1339.5,858.0 1339.5,912.0 1340.6,850.3 1340.6,904.3 1342.4,900.3 1342.4,1031.5 1345.5,961.0 1345.5,1025.0 1348.8,955.7 1348.8,1017.7 1352.3,949.4 1352.3,1009.4 1356.1,942.7 1356.1,1000.7 1359.2,935.8 1359.2,991.8 1362.2,928.7 1362.2,982.7 1365.6,921.3 1365.6,975.3 1369.1,913.9 1369.1,967.9 1372.3,906.2 1372.3,960.2 1375.1,898.5 1375.1,952.5 1377.8,890.7 1377.8,944.7 1381.5,882.8 1381.5,936.8 1385.1,874.8 1385.1,928.8 1388.4,866.7 1388.4,920.7 1391.2,858.5 1391.2,912.5 1393.9,850.3 1393.9,904.3 1395.7,900.3 1395.7,1031.5 1398.9,961.0 1398.9,1025.0 1402.1,955.6 1402.1,1017.6 1405.4,949.3 1405.4,1009.3 1408.8,942.6 1408.8,1000.6 1412.4,935.5 1412.4,991.5 1415.3,928.3 1415.3,982.3 1417.7,920.9 1417.7,974.9 1420.3,913.3 1420.3,967.3 1422.9,905.7 1422.9,959.7 1425.9,897.9 1425.9,951.9 1429.4,889.9 1429.4,943.9 1432.7,881.9 1432.7,935.9 1436.0,873.8 1436.0,927.8 1439.3,865.7 1439.3,919.7 1442.6,857.4 1442.6,911.4 1444.7,849.1 1444.7,903.1 1446.5,899.1 1446.5,1031.5 1449.6,961.0 1449.6,1025.0 1462.1,955.7 1462.1,1017.7 1473.5,949.4 1473.5,1009.4 1480.4,942.7 1480.4,1000.7 1483.9,935.8 1483.9,991.8 1489.4,928.7 1489.4,982.7 1492.7,921.3 1492.7,975.3 1495.8,913.9 1495.8,967.9 1499.2,906.2 1499.2,960.2 1502.2,898.5 1502.2,952.5 1505.2,890.7 1505.2,944.7 1508.4,882.8 1508.4,936.8 1511.7,874.8 1511.7,928.8 1514.9,866.7 1514.9,920.7 1518.1,858.5 1518.1,912.5 1520.3,850.3 1520.3,904.3 1522.1,900.3 1522.1,1031.5 1525.3,961.0 1525.3,1025.0 1528.5,955.7 1528.5,1017.7 1531.8,949.4 1531.8,1009.4 1535.3,942.7 1535.3,1000.7 1538.6,935.8 1538.6,991.8 1542.3,928.7 1542.3,982.7 1546.7,921.3 1546.7,975.3 1550.1,913.9 1550.1,967.9 1553.7,906.2 1553.7,960.2 1557.4,898.5 1557.4,952.5 1561.3,890.7 1561.3,944.7 1565.0,882.8 1565.0,936.8 1568.7,874.8 1568.7,928.8 1572.4,866.7 1572.4,920.7 1576.0,858.5 1576.0,912.5 1579.0,850.3 1579.0,904.3 1580.8,900.3 1580.8,1031.5 1583.4,961.0 1583.4,1025.0 1586.0,955.5 1586.0,1016.8 1589.6,949.1 1589.6,1007.6 1593.8,942.2 1593.8,998.1 1597.7,935.1 1597.7,989.1 1601.0,927.8 1601.0,981.8 1604.3,920.2 1604.3,974.2 1607.9,912.5 1607.9,966.5 1610.9,904.7 1610.9,958.7 1614.0,896.8 1614.0,950.8 1617.3,888.7 1617.3,942.7 1620.2,880.6 1620.2,934.6" fill="none" stroke="#aeb4c4" stroke-width="1.5"/>
<rect x="586.8" y="960.5" width="12" height="67" fill="#6edaa5" fill-opacity="0.4"/>
<g fill="#7cd3ab" fill-opacity="0.93">
<rect x="591.1" y="965.3" width="3.7" height="57.0"/>
<rect x="594.9" y="959.3" width="3.7" height="56.3"/>
<rect x="598.6" y="952.2" width="3.7" height="55.6"/>
<rect x="601.4" y="944.6" width="3.7" height="54.9"/>
<rect x="611.0" y="936.8" width="3.7" height="54.2"/>
<rect x="614.1" y="928.7" width="3.7" height="54.0"/>
<rect x="617.5" y="920.4" width="3.7" height="54.0"/>
<rect x="620.7" y="911.9" width="3.7" height="54.0"/>
<rect x="624.2" y="903.3" width="3.7" height="54.0"/>
<rect x="626.9" y="894.6" width="3.7" height="54.0"/>
<rect x="630.0" y="885.7" width="3.7" height="54.0"/>
<rect x="633.4" y="876.7" width="3.7" height="54.0"/>
<rect x="636.9" y="867.7" width="3.7" height="54.0"/>
<rect x="638.8" y="858.5" width="3.7" height="54.0"/>
<rect x="640.6" y="908.5" width="3.7" height="123.0"/>
<rect x="643.4" y="961.0" width="3.7" height="64.0"/>
<rect x="646.8" y="955.5" width="3.7" height="61.9"/>
<rect x="650.3" y="949.0" width="3.7" height="59.7"/>
<rect x="653.4" y="942.0" width="3.7" height="57.6"/>
<rect x="656.1" y="934.8" width="3.7" height="55.4"/>
<rect x="659.1" y="927.4" width="3.7" height="54.0"/>
<rect x="662.0" y="919.8" width="3.7" height="54.0"/>
<rect x="665.4" y="912.0" width="3.7" height="54.0"/>
<rect x="668.3" y="904.1" width="3.7" height="54.0"/>
<rect x="671.2" y="896.1" width="3.7" height="54.0"/>
<rect x="673.6" y="887.9" width="3.7" height="54.0"/>
<rect x="676.9" y="879.7" width="3.7" height="54.0"/>
<rect x="680.1" y="871.4" width="3.7" height="54.0"/>
<rect x="683.5" y="863.0" width="3.7" height="54.0"/>
<rect x="686.6" y="854.5" width="3.7" height="54.0"/>
<rect x="690.6" y="904.5" width="3.7" height="127.0"/>
<rect x="693.7" y="961.0" width="3.7" height="64.0"/>
<rect x="697.7" y="955.1" width="3.7" height="61.9"/>
<rect x="702.2" y="948.3" width="3.7" height="59.7"/>
<rect x="706.2" y="940.9" width="3.7" height="57.6"/>
<rect x="709.4" y="933.3" width="3.7" height="55.4"/>
<rect x="712.4" y="925.4" width="3.7" height="54.0"/>
<rect x="715.2" y="917.4" width="3.7" height="54.0"/>
<rect x="717.8" y="909.1" width="3.7" height="54.0"/>
<rect x="721.3" y="900.8" width="3.7" height="54.0"/>
<rect x="724.5" y="892.3" width="3.7" height="54.0"/>
<rect x="727.7" y="883.7" width="3.7" height="54.0"/>
<rect x="731.0" y="875.0" width="3.7" height="54.0"/>
<rect x="734.2" y="866.2" width="3.7" height="54.0"/>
<rect x="737.4" y="857.3" width="3.7" height="54.0"/>
<rect x="738.6" y="848.3" width="3.7" height="54.0"/>
<rect x="740.4" y="898.3" width="3.7" height="133.2"/>
<rect x="743.3" y="961.0" width="3.7" height="64.0"/>
<rect x="746.2" y="956.6" width="3.7" height="62.3"/>
<rect x="749.4" y="951.4" width="3.7" height="60.7"/>
<rect x="753.4" y="945.9" width="3.7" height="59.0"/>
<rect x="756.5" y="940.1" width="3.7" height="57.3"/>
<rect x="760.6" y="934.2" width="3.7" height="55.7"/>
<rect x="764.2" y="928.1" width="3.7" height="54.0"/>
<rect x="767.2" y="921.9" width="3.7" height="54.0"/>
<rect x="769.3" y="915.6" width="3.7" height="54.0"/>
<rect x="772.3" y="909.1" width="3.7" height="54.0"/>
<rect x="775.9" y="902.7" width="3.7" height="54.0"/>
<rect x="779.7" y="896.1" width="3.7" height="54.0"/>
<rect x="783.0" y="889.4" width="3.7" height="54.0"/>
<rect x="786.3" y="882.7" width="3.7" height="54.0"/>
<rect x="789.6" y="875.9" width="3.7" height="54.0"/>
<rect x="792.9" y="869.1" width="3.7" height="54.0"/>
<rect x="796.1" y="862.2" width="3.7" height="54.0"/>
<rect x="799.4" y="855.3" width="3.7" height="54.0"/>
<rect x="801.0" y="848.3" width="3.7" height="54.0"/>
<rect x="802.8" y="898.3" width="3.7" height="133.2"/>
<rect x="805.7" y="961.0" width="3.7" height="64.0"/>
<rect x="808.7" y="955.6" width="3.7" height="62.0"/>
<rect x="812.3" y="949.3" width="3.7" height="60.0"/>
<rect x="815.8" y="942.6" width="3.7" height="58.0"/>
<rect x="819.3" y="935.7" width="3.7" height="56.0"/>
<rect x="822.3" y="928.5" width="3.7" height="54.0"/>
<rect x="825.5" y="921.1" width="3.7" height="54.0"/>
<rect x="829.0" y="913.6" width="3.7" height="54.0"/>
<rect x="832.0" y="905.9" width="3.7" height="54.0"/>
<rect x="835.2" y="898.1" width="3.7" height="54.0"/>
<rect x="838.7" y="890.3" width="3.7" height="54.0"/>
<rect x="842.2" y="882.3" width="3.7" height="54.0"/>
<rect x="845.6" y="874.2" width="3.7" height="54.0"/>
<rect x="849.0" y="866.1" width="3.7" height="54.0"/>
<rect x="852.3" y="857.9" width="3.7" height="54.0"/>
<rect x="853.8" y="849.6" width="3.7" height="54.0"/>
<rect x="855.6" y="899.6" width="3.7" height="131.9"/>
<rect x="858.8" y="961.0" width="3.7" height="64.0"/>
<rect x="862.4" y="955.6" width="3.7" height="62.0"/>
<rect x="865.8" y="949.3" width="3.7" height="60.0"/>
<rect x="869.4" y="942.6" width="3.7" height="58.0"/>
<rect x="872.5" y="935.7" width="3.7" height="56.0"/>
<rect x="874.9" y="928.5" width="3.7" height="54.0"/>
<rect x="877.6" y="921.1" width="3.7" height="54.0"/>
<rect x="880.8" y="913.6" width="3.7" height="54.0"/>
<rect x="884.3" y="905.9" width="3.7" height="54.0"/>
<rect x="887.2" y="898.1" width="3.7" height="54.0"/>
<rect x="890.9" y="890.3" width="3.7" height="54.0"/>
<rect x="894.5" y="882.3" width="3.7" height="54.0"/>
<rect x="898.1" y="874.2" width="3.7" height="54.0"/>
<rect x="901.7" y="866.1" width="3.7" height="54.0"/>
<rect x="905.3" y="857.9" width="3.7" height="54.0"/>
<rect x="907.1" y="849.6" width="3.7" height="54.0"/>
<rect x="908.9" y="899.6" width="3.7" height="131.9"/>
<rect x="912.0" y="961.0" width="3.7" height="64.0"/>
<rect x="915.6" y="956.0" width="3.7" height="62.1"/>
<rect x="919.5" y="950.2" width="3.7" height="60.2"/>
<rect x="922.9" y="944.0" width="3.7" height="58.4"/>
<rect x="926.4" y="937.6" width="3.7" height="56.5"/>
<rect x="929.4" y="930.9" width="3.7" height="54.6"/>
<rect x="932.4" y="924.1" width="3.7" height="54.0"/>
<rect x="935.8" y="917.1" width="3.7" height="54.0"/>
<rect x="939.0" y="910.1" width="3.7" height="54.0"/>
<rect x="942.8" y="902.9" width="3.7" height="54.0"/>
<rect x="945.6" y="895.6" width="3.7" height="54.0"/>
<rect x="948.7" y="888.2" width="3.7" height="54.0"/>
<rect x="952.3" y="880.8" width="3.7" height="54.0"/>
<rect x="955.4" y="873.3" width="3.7" height="54.0"/>
<rect x="957.7" y="865.7" width="3.7" height="54.0"/>
<rect x="959.7" y="858.0" width="3.7" height="54.0"/>
<rect x="961.8" y="850.3" width="3.7" height="54.0"/>
<rect x="963.6" y="900.3" width="3.7" height="131.2"/>
<rect x="965.5" y="961.0" width="3.7" height="64.0"/>
<rect x="968.3" y="956.2" width="3.7" height="62.1"/>
<rect x="972.1" y="950.6" width="3.7" height="60.2"/>
<rect x="975.9" y="944.7" width="3.7" height="58.4"/>
<rect x="979.6" y="938.5" width="3.7" height="56.5"/>
<rect x="984.0" y="932.1" width="3.7" height="54.6"/>
<rect x="987.7" y="925.5" width="3.7" height="54.0"/>
<rect x="991.9" y="918.8" width="3.7" height="54.0"/>
<rect x="995.7" y="912.0" width="3.7" height="54.0"/>
<rect x="999.4" y="905.1" width="3.7" height="54.0"/>
<rect x="1003.4" y="898.1" width="3.7" height="54.0"/>
<rect x="1008.1" y="891.1" width="3.7" height="54.0"/>
<rect x="1010.4" y="883.9" width="3.7" height="54.0"/>
<rect x="1013.8" y="876.7" width="3.7" height="54.0"/>
<rect x="1018.0" y="869.4" width="3.7" height="54.0"/>
<rect x="1022.2" y="862.0" width="3.7" height="54.0"/>
<rect x="1027.2" y="854.6" width="3.7" height="54.0"/>
<rect x="1031.8" y="904.6" width="3.7" height="126.9"/>
<rect x="1035.3" y="961.0" width="3.7" height="64.0"/>
<rect x="1039.1" y="955.7" width="3.7" height="61.0"/>
<rect x="1042.1" y="949.4" width="3.7" height="58.0"/>
<rect x="1045.4" y="942.7" width="3.7" height="55.0"/>
<rect x="1049.0" y="935.7" width="3.7" height="54.0"/>
<rect x="1052.8" y="928.6" width="3.7" height="54.0"/>
<rect x="1056.7" y="921.2" width="3.7" height="54.0"/>
<rect x="1060.3" y="913.7" width="3.7" height="54.0"/>
<rect x="1063.4" y="906.1" width="3.7" height="54.0"/>
<rect x="1066.4" y="898.3" width="3.7" height="54.0"/>
<rect x="1069.1" y="890.5" width="3.7" height="54.0"/>
<rect x="1070.9" y="940.5" width="3.7" height="91.0"/>
<rect x="1073.7" y="961.0" width="3.7" height="64.0"/>
<rect x="1076.8" y="955.9" width="3.7" height="62.1"/>
<rect x="1080.3" y="949.9" width="3.7" height="60.2"/>
<rect x="1083.3" y="943.6" width="3.7" height="58.4"/>
<rect x="1085.8" y="937.0" width="3.7" height="56.5"/>
<rect x="1089.1" y="930.2" width="3.7" height="54.6"/>
<rect x="1092.2" y="923.2" width="3.7" height="54.0"/>
<rect x="1095.3" y="916.0" width="3.7" height="54.0"/>
<rect x="1098.4" y="908.8" width="3.7" height="54.0"/>
<rect x="1100.9" y="901.4" width="3.7" height="54.0"/>
<rect x="1104.4" y="894.0" width="3.7" height="54.0"/>
<rect x="1108.0" y="886.4" width="3.7" height="54.0"/>
<rect x="1111.6" y="878.8" width="3.7" height="54.0"/>
<rect x="1115.2" y="871.1" width="3.7" height="54.0"/>
<rect x="1118.8" y="863.3" width="3.7" height="54.0"/>
<rect x="1122.3" y="855.4" width="3.7" height="54.0"/>
<rect x="1124.9" y="847.5" width="3.7" height="54.0"/>
<rect x="1126.7" y="897.5" width="3.7" height="134.0"/>
<rect x="1129.5" y="961.0" width="3.7" height="64.0"/>
<rect x="1133.4" y="956.0" width="3.7" height="62.1"/>
<rect x="1136.9" y="950.2" width="3.7" height="60.2"/>
<rect x="1140.2" y="944.0" width="3.7" height="58.4"/>
<rect x="1143.0" y="937.6" width="3.7" height="56.5"/>
<rect x="1145.5" y="930.9" width="3.7" height="54.6"/>
<rect x="1147.7" y="924.1" width="3.7" height="54.0"/>
<rect x="1149.7" y="917.1" width="3.7" height="54.0"/>
<rect x="1152.2" y="910.1" width="3.7" height="54.0"/>
<rect x="1155.3" y="902.9" width="3.7" height="54.0"/>
<rect x="1158.4" y="895.6" width="3.7" height="54.0"/>
<rect x="1161.6" y="888.2" width="3.7" height="54.0"/>
<rect x="1165.3" y="880.8" width="3.7" height="54.0"/>
<rect x="1168.9" y="873.3" width="3.7" height="54.0"/>
<rect x="1172.4" y="865.7" width="3.7" height="54.0"/>
<rect x="1176.0" y="858.0" width="3.7" height="54.0"/>
<rect x="1178.5" y="850.3" width="3.7" height="54.0"/>
<rect x="1180.3" y="900.3" width="3.7" height="131.2"/>
<rect x="1182.6" y="961.0" width="3.7" height="64.0"/>
<rect x="1184.9" y="955.7" width="3.7" height="62.0"/>
<rect x="1187.9" y="949.4" width="3.7" height="60.0"/>
<rect x="1190.9" y="942.7" width="3.7" height="58.0"/>
<rect x="1194.4" y="935.8" width="3.7" height="56.0"/>
<rect x="1197.5" y="928.7" width="3.7" height="54.0"/>
<rect x="1200.2" y="921.3" width="3.7" height="54.0"/>
<rect x="1203.8" y="913.9" width="3.7" height="54.0"/>
<rect x="1207.0" y="906.2" width="3.7" height="54.0"/>
<rect x="1210.4" y="898.5" width="3.7" height="54.0"/>
<rect x="1213.8" y="890.7" width="3.7" height="54.0"/>
<rect x="1217.3" y="882.8" width="3.7" height="54.0"/>
<rect x="1220.8" y="874.8" width="3.7" height="54.0"/>
<rect x="1224.3" y="866.7" width="3.7" height="54.0"/>
<rect x="1227.7" y="858.5" width="3.7" height="54.0"/>
<rect x="1230.1" y="850.3" width="3.7" height="54.0"/>
<rect x="1231.9" y="900.3" width="3.7" height="131.2"/>
<rect x="1234.9" y="961.0" width="3.7" height="64.0"/>
<rect x="1238.5" y="955.8" width="3.7" height="62.0"/>
<rect x="1242.2" y="949.8" width="3.7" height="60.0"/>
<rect x="1245.2" y="943.3" width="3.7" height="58.0"/>
<rect x="1248.0" y="936.6" width="3.7" height="56.0"/>
<rect x="1251.5" y="929.6" width="3.7" height="54.0"/>
<rect x="1255.1" y="922.5" width="3.7" height="54.0"/>
<rect x="1258.8" y="915.3" width="3.7" height="54.0"/>
<rect x="1261.5" y="907.9" width="3.7" height="54.0"/>
<rect x="1263.8" y="900.4" width="3.7" height="54.0"/>
<rect x="1266.8" y="892.8" width="3.7" height="54.0"/>
<rect x="1270.5" y="885.1" width="3.7" height="54.0"/>
<rect x="1274.0" y="877.4" width="3.7" height="54.0"/>
<rect x="1277.4" y="869.5" width="3.7" height="54.0"/>
<rect x="1280.8" y="861.6" width="3.7" height="54.0"/>
<rect x="1283.2" y="853.6" width="3.7" height="54.0"/>
<rect x="1285.0" y="903.6" width="3.7" height="127.9"/>
<rect x="1287.8" y="961.0" width="3.7" height="64.0"/>
<rect x="1291.5" y="956.0" width="3.7" height="62.1"/>
<rect x="1294.7" y="950.2" width="3.7" height="60.2"/>
<rect x="1297.8" y="944.0" width="3.7" height="58.4"/>
<rect x="1301.2" y="937.6" width="3.7" height="56.5"/>
<rect x="1304.3" y="930.9" width="3.7" height="54.6"/>
<rect x="1307.1" y="924.1" width="3.7" height="54.0"/>
<rect x="1310.9" y="917.1" width="3.7" height="54.0"/>
<rect x="1314.2" y="910.1" width="3.7" height="54.0"/>
<rect x="1317.7" y="902.9" width="3.7" height="54.0"/>
<rect x="1321.5" y="895.6" width="3.7" height="54.0"/>
<rect x="1324.7" y="888.2" width="3.7" height="54.0"/>
<rect x="1328.2" y="880.8" width="3.7" height="54.0"/>
<rect x="1331.9" y="873.3" width="3.7" height="54.0"/>
<rect x="1334.6" y="865.7" width="3.7" height="54.0"/>
<rect x="1337.7" y="858.0" width="3.7" height="54.0"/>
<rect x="1338.8" y="850.3" width="3.7" height="54.0"/>
<rect x="1340.6" y="900.3" width="3.7" height="131.2"/>
<rect x="1343.6" y="961.0" width="3.7" height="64.0"/>
<rect x="1346.9" y="955.7" width="3.7" height="62.0"/>
<rect x="1350.5" y="949.4" width="3.7" height="60.0"/>
<rect x="1354.2" y="942.7" width="3.7" height="58.0"/>
<rect x="1357.3" y="935.8" width="3.7" height="56.0"/>
<rect x="1360.3" y="928.7" width="3.7" height="54.0"/>
<rect x="1363.8" y="921.3" width="3.7" height="54.0"/>
<rect x="1367.3" y="913.9" width="3.7" height="54.0"/>
<rect x="1370.5" y="906.2" width="3.7" height="54.0"/>
<rect x="1373.2" y="898.5" width="3.7" height="54.0"/>
<rect x="1375.9" y="890.7" width="3.7" height="54.0"/>
<rect x="1379.6" y="882.8" width="3.7" height="54.0"/>
<rect x="1383.3" y="874.8" width="3.7" height="54.0"/>
<rect x="1386.5" y="866.7" width="3.7" height="54.0"/>
<rect x="1389.3" y="858.5" width="3.7" height="54.0"/>
<rect x="1392.1" y="850.3" width="3.7" height="54.0"/>
<rect x="1393.9" y="900.3" width="3.7" height="131.2"/>
<rect x="1397.0" y="961.0" width="3.7" height="64.0"/>
<rect x="1400.2" y="955.6" width="3.7" height="62.0"/>
<rect x="1403.6" y="949.3" width="3.7" height="60.0"/>
<rect x="1407.0" y="942.6" width="3.7" height="58.0"/>
<rect x="1410.5" y="935.5" width="3.7" height="56.0"/>
<rect x="1413.4" y="928.3" width="3.7" height="54.0"/>
<rect x="1415.8" y="920.9" width="3.7" height="54.0"/>
<rect x="1418.5" y="913.3" width="3.7" height="54.0"/>
<rect x="1421.0" y="905.7" width="3.7" height="54.0"/>
<rect x="1424.0" y="897.9" width="3.7" height="54.0"/>
<rect x="1427.6" y="889.9" width="3.7" height="54.0"/>
<rect x="1430.9" y="881.9" width="3.7" height="54.0"/>
<rect x="1434.2" y="873.8" width="3.7" height="54.0"/>
<rect x="1437.5" y="865.7" width="3.7" height="54.0"/>
<rect x="1440.8" y="857.4" width="3.7" height="54.0"/>
<rect x="1442.9" y="849.1" width="3.7" height="54.0"/>
<rect x="1444.7" y="899.1" width="3.7" height="132.4"/>
<rect x="1447.7" y="961.0" width="3.7" height="64.0"/>
<rect x="1460.2" y="955.7" width="3.7" height="62.0"/>
<rect x="1471.6" y="949.4" width="3.7" height="60.0"/>
<rect x="1478.6" y="942.7" width="3.7" height="58.0"/>
<rect x="1482.0" y="935.8" width="3.7" height="56.0"/>
<rect x="1487.6" y="928.7" width="3.7" height="54.0"/>
<rect x="1490.8" y="921.3" width="3.7" height="54.0"/>
<rect x="1493.9" y="913.9" width="3.7" height="54.0"/>
<rect x="1497.4" y="906.2" width="3.7" height="54.0"/>
<rect x="1500.4" y="898.5" width="3.7" height="54.0"/>
<rect x="1503.4" y="890.7" width="3.7" height="54.0"/>
<rect x="1506.6" y="882.8" width="3.7" height="54.0"/>
<rect x="1509.8" y="874.8" width="3.7" height="54.0"/>
<rect x="1513.0" y="866.7" width="3.7" height="54.0"/>
<rect x="1516.3" y="858.5" width="3.7" height="54.0"/>
<rect x="1518.5" y="850.3" width="3.7" height="54.0"/>
<rect x="1520.3" y="900.3" width="3.7" height="131.2"/>
<rect x="1523.4" y="961.0" width="3.7" height="64.0"/>
<rect x="1526.7" y="955.7" width="3.7" height="62.0"/>
<rect x="1530.0" y="949.4" width="3.7" height="60.0"/>
<rect x="1533.5" y="942.7" width="3.7" height="58.0"/>
<rect x="1536.8" y="935.8" width="3.7" height="56.0"/>
<rect x="1540.5" y="928.7" width="3.7" height="54.0"/>
<rect x="1544.9" y="921.3" width="3.7" height="54.0"/>
<rect x="1548.2" y="913.9" width="3.7" height="54.0"/>
<rect x="1551.8" y="906.2" width="3.7" height="54.0"/>
<rect x="1555.5" y="898.5" width="3.7" height="54.0"/>
<rect x="1559.4" y="890.7" width="3.7" height="54.0"/>
<rect x="1563.1" y="882.8" width="3.7" height="54.0"/>
<rect x="1566.8" y="874.8" width="3.7" height="54.0"/>
<rect x="1570.5" y="866.7" width="3.7" height="54.0"/>
<rect x="1574.2" y="858.5" width="3.7" height="54.0"/>
<rect x="1577.2" y="850.3" width="3.7" height="54.0"/>
<rect x="1579.0" y="900.3" width="3.7" height="131.2"/>
<rect x="1581.6" y="961.0" width="3.7" height="64.0"/>
<rect x="1584.2" y="955.5" width="3.7" height="61.3"/>
<rect x="1587.7" y="949.1" width="3.7" height="58.5"/>
<rect x="1592.0" y="942.2" width="3.7" height="55.8"/>
<rect x="1595.8" y="935.1" width="3.7" height="54.0"/>
<rect x="1599.1" y="927.8" width="3.7" height="54.0"/>
<rect x="1602.5" y="920.2" width="3.7" height="54.0"/>
<rect x="1606.1" y="912.5" width="3.7" height="54.0"/>
<rect x="1609.1" y="904.7" width="3.7" height="54.0"/>
<rect x="1612.1" y="896.8" width="3.7" height="54.0"/>
<rect x="1615.4" y="888.7" width="3.7" height="54.0"/>
<rect x="1618.3" y="880.6" width="3.7" height="54.0"/>
</g></g>
</g></svg>
<div class="axes">
<div class="t bx c" style="left:1056.0px;top:392px;width:60px;">10</div>
<div class="t bx c" style="left:1124.57px;top:392px;width:60px;">20</div>
<div class="t bx c" style="left:1193.14px;top:392px;width:60px;">30</div>
<div class="t bx c" style="left:1261.71px;top:392px;width:60px;">40</div>
<div class="t bx c" style="left:1330.28px;top:392px;width:60px;">50</div>
<div class="t bx c" style="left:1398.85px;top:392px;width:60px;">60</div>
<div class="t bx c" style="left:1467.42px;top:392px;width:60px;">70</div>
<div class="t bx c" style="left:1535.99px;top:392px;width:60px;">80</div>
<div class="t bx" style="left:1583.5px;top:367.5px;">(ms)</div>
<div class="t bx" style="left:1963.5px;top:392px;">-160</div>
<div class="t bx" style="left:2039px;top:392px;">-120</div>
<div class="t ax c" style="left:301.4px;top:577px;width:120px;letter-spacing:-1.75px">11:40</div>
<div class="t ax c" style="left:301.4px;top:1047.4px;width:120px;letter-spacing:-1.75px">11:40</div>
<div class="t ax c" style="left:587.4px;top:577px;width:120px;">12:30</div>
<div class="t ax c" style="left:587.4px;top:1047.4px;width:120px;">12:30</div>
<div class="t ax c" style="left:873.4px;top:577px;width:120px;">13:20</div>
<div class="t ax c" style="left:873.4px;top:1047.4px;width:120px;">13:20</div>
<div class="t ax c" style="left:1159.4px;top:577px;width:120px;letter-spacing:-1.75px">14:10</div>
<div class="t ax c" style="left:1159.4px;top:1047.4px;width:120px;letter-spacing:-1.75px">14:10</div>
<div class="t ax c" style="left:1445.4px;top:577px;width:120px;">15:0</div>
<div class="t ax c" style="left:1445.4px;top:1047.4px;width:120px;">15:0</div>
<div class="t ax c" style="left:1731.4px;top:577px;width:120px;">15:50</div>
<div class="t ax c" style="left:1731.4px;top:1047.4px;width:120px;">15:50</div>
<div class="t ax" style="left:1811.8px;top:606px;letter-spacing:1px">0</div>
<div class="t ax" style="left:1811.8px;top:652.3px;letter-spacing:1px">20</div>
<div class="t ax" style="left:1811.8px;top:698.5px;letter-spacing:1px">40</div>
<div class="t ax" style="left:1811.8px;top:745px;letter-spacing:1px">60</div>
<div class="t ax r" style="left:222.2px;top:843.8px;width:120px;letter-spacing:.3px">300</div>
<div class="t ax r" style="left:222.2px;top:898.8px;width:120px;letter-spacing:.3px">250</div>
<div class="t ax r" style="left:222.2px;top:953.8px;width:120px;letter-spacing:.3px">200</div>
<div class="t ax r" style="left:222.2px;top:1008.3px;width:120px;letter-spacing:.3px">150</div>
<div class="t label" style="left:220.3px;top:813.4px;letter-spacing:1.05px"><span class="z">堆大小</span>/MB</div>
<div class="t label" style="left:1812px;top:812.8px;letter-spacing:.7px"><span class="z">暂停时间</span>/ms</div>
</div>
<div class="redbox" style="left:99px;top:95px;width:996px;height:149px"></div>
<div class="redbox" style="left:559px;top:714px;width:1329px;height:73px"></div>
</body></html>
